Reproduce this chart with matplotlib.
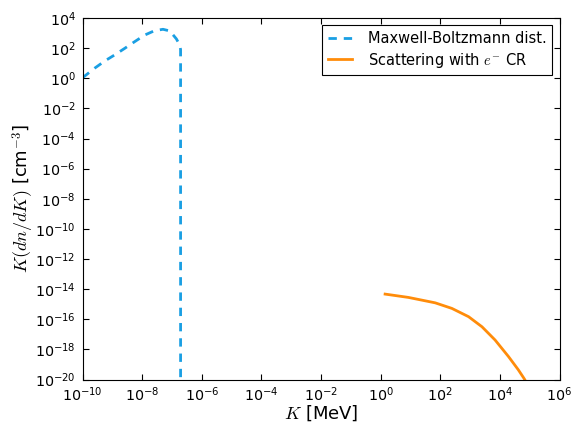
import numpy as np
import matplotlib
matplotlib.use('Agg')
import matplotlib.pyplot as plt

# Maxwell-Boltzmann curve (log10 K in MeV, log10 K dn/dK in cm^-3)
mb_logk = [-10.0, -9.59, -9.25, -8.92, -8.58, -8.25, -7.91, -7.58, -7.30, -7.07, -6.85, -6.74, -6.71, -6.71]
mb_logn = [0.03, 0.67, 1.15, 1.55, 1.99, 2.43, 2.87, 3.16, 3.25, 3.14, 2.61, 2.21, 1.9, -21.0]

# electron CR scattering curve
cr_logk = [0.15, 0.93, 1.83, 2.39, 2.95, 3.40, 3.84, 4.29, 4.62, 4.82, 4.86]
cr_logn = [-14.33, -14.55, -14.91, -15.28, -15.83, -16.50, -17.38, -18.48, -19.36, -19.96, -20.1]

plt.rcParams['mathtext.fontset'] = 'cm'
plt.rcParams['axes.unicode_minus'] = False

fig = plt.figure(figsize=(5.81, 4.22), dpi=100)
ax = fig.add_axes([82.5/581, 1 - 379.5/422, 477/581, 361.5/422])

ax.plot(10.0**np.array(mb_logk), 10.0**np.array(mb_logn), color='#1a9fe3', lw=2,
        linestyle=(0, (3, 2.5)), label='Maxwell-Boltzmann dist.')
ax.plot(10.0**np.array(cr_logk), 10.0**np.array(cr_logn), color='#ff8c0a', lw=2,
        label=r'Scattering with $e^{-}$ CR')

ax.set_xscale('log')
ax.set_yscale('log')
ax.set_xlim(1e-10, 1e6)
ax.set_ylim(1e-20, 1e4)
ax.set_xticks([10.0**p for p in range(-10, 7, 2)])
ax.set_yticks([10.0**p for p in range(-20, 5, 2)])
ax.minorticks_off()
ax.tick_params(direction='in', top=True, right=True, length=4, width=0.8, labelsize=10.3, pad=5)
ax.tick_params(axis='x', pad=4)

ax.set_xlabel(r'$K$ [MeV]', fontsize=13)
ax.set_ylabel(r'$K(dn/dK)$ [cm$^{-3}$]', fontsize=13)
ax.xaxis.set_label_coords(0.5, -0.067)
ax.yaxis.set_label_coords(-0.097, 0.5)

leg = ax.legend(loc='upper right', fontsize=10.5, fancybox=False, framealpha=1, edgecolor='black',
                handlelength=1.6, handletextpad=1.1, labelspacing=0.3, borderaxespad=0.5,
                borderpad=0.4)
leg.get_frame().set_linewidth(0.8)

fig.savefig('out.png', dpi=100)
